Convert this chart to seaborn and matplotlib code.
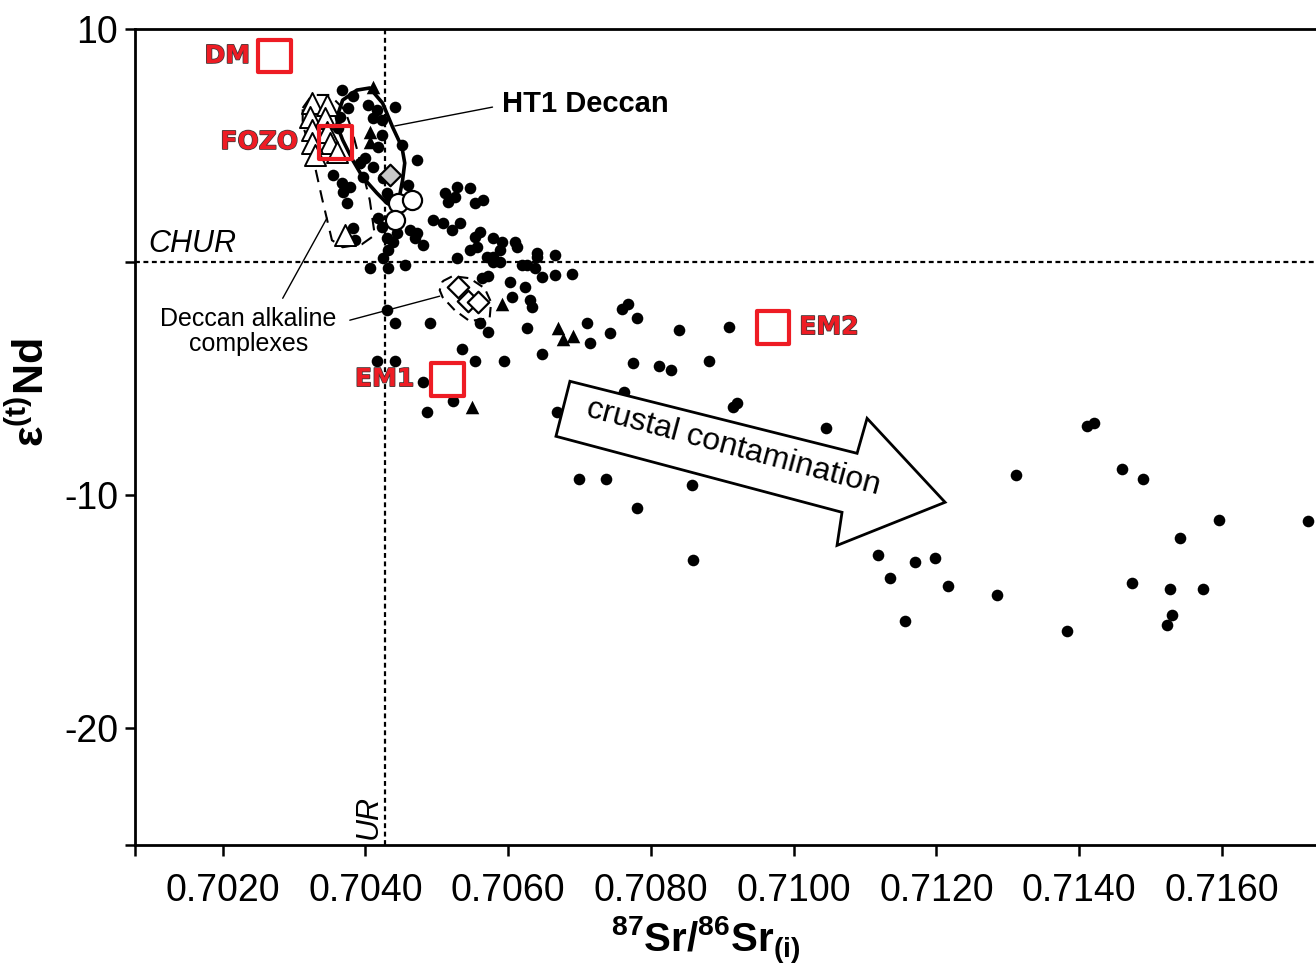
import matplotlib
matplotlib.use("Agg")
import matplotlib.pyplot as plt
import matplotlib.patheffects as pe
from matplotlib.patches import Polygon
import seaborn as sns
import pandas as pd

# ---------------- data ----------------
# Deccan basalts (filled circles)
dots_sr = [0.70367, 0.70382, 0.70375, 0.70364, 0.70361, 0.70403, 0.70416, 0.70410, 0.70423, 0.70441,
           0.70423, 0.70417, 0.70451, 0.70472, 0.70399, 0.70392, 0.70410, 0.70354, 0.70367, 0.70378,
           0.70368, 0.70374, 0.70424, 0.70396, 0.70459, 0.70430, 0.70434, 0.70511, 0.70515, 0.70525,
           0.70528, 0.70546, 0.70553, 0.70564, 0.70494, 0.70508, 0.70521, 0.70532, 0.70417, 0.70423,
           0.70462, 0.70469, 0.70480, 0.70472, 0.70430, 0.70438, 0.70431, 0.70406, 0.70431, 0.70455,
           0.70382, 0.70385, 0.70553, 0.70560, 0.70556, 0.70546, 0.70578, 0.70591, 0.70570, 0.70578,
           0.70588, 0.70609, 0.70613, 0.70619, 0.70626, 0.70637, 0.70640, 0.70640, 0.70665, 0.70648,
           0.70665, 0.70689, 0.70563, 0.70571, 0.70602, 0.70606, 0.70623, 0.70630, 0.70528, 0.70430,
           0.70441, 0.70490, 0.70560, 0.70571, 0.70627, 0.70710, 0.70714, 0.70742, 0.70648, 0.70535,
           0.70553, 0.70594, 0.70416, 0.70441, 0.70480, 0.70522, 0.70486, 0.70668, 0.70759, 0.70768,
           0.70780, 0.70839, 0.70909, 0.70775, 0.70812, 0.70828, 0.70881, 0.70762, 0.70915, 0.70920,
           0.71045, 0.70699, 0.70737, 0.70857, 0.70780, 0.70859, 0.71170, 0.71411, 0.71421, 0.71311,
           0.71460, 0.71489, 0.71596, 0.71721, 0.71541, 0.71118, 0.71170, 0.71198, 0.71135, 0.71216,
           0.71285, 0.71156, 0.71383, 0.71474, 0.71527, 0.71574, 0.71530, 0.71523, 0.70578, 0.70588,
           0.70633, 0.70424, 0.70444]
dots_nd = [7.38, 7.12, 6.61, 6.22, 5.75, 6.74, 6.52, 6.18, 6.09, 6.65,
           5.45, 4.94, 5.02, 4.38, 4.46, 4.25, 4.08, 3.73, 3.39, 3.22,
           3.00, 2.53, 3.61, 3.65, 3.30, 2.96, 2.66, 2.96, 2.58, 2.79,
           3.22, 3.18, 2.53, 2.66, 1.80, 1.67, 1.37, 1.67, 1.89, 1.50,
           1.37, 1.03, 0.73, 1.24, 1.03, 0.86, 0.52, -0.26, -0.26, -0.13,
           1.46, 0.94, 1.07, 1.29, 0.64, 0.52, 1.03, 0.86, 0.21, 0.21,
           0.52, 0.86, 0.64, -0.13, -0.13, -0.26, 0.39, 0.21, 0.30, -0.64,
           -0.56, -0.52, -0.69, -0.60, -0.86, -1.50, -1.07, -1.63, 0.17, -2.06,
           -2.62, -2.62, -2.62, -3.00, -2.83, -2.62, -3.48, -3.05, -3.95, -3.73,
           -4.25, -4.25, -4.25, -4.25, -5.15, -5.97, -6.44, -6.44, -2.02, -1.80,
           -2.40, -2.92, -2.79, -4.33, -4.46, -4.64, -4.25, -5.58, -6.22, -6.05,
           -7.12, -9.31, -9.31, -9.57, -10.56, -12.79, -9.31, -7.04, -6.91, -9.14,
           -8.88, -9.31, -11.07, -11.12, -11.85, -12.58, -12.88, -12.70, -13.56, -13.91,
           -14.29, -15.41, -15.84, -13.78, -14.03, -14.03, -15.15, -15.58, 0.00, 0.00,
           -1.93, 0.17, 1.24]

# filled triangles
tri_sr = [0.70410, 0.70407, 0.70407, 0.70591, 0.70670, 0.70677, 0.70691, 0.70549]
tri_nd = [7.51, 5.58, 5.15, -1.80, -2.83, -3.30, -3.18, -6.22]

# open triangles
otri_sr = [0.70325, 0.70346, 0.70322, 0.70343, 0.70325, 0.70346, 0.70350, 0.70325, 0.70360, 0.70329, 0.70371]
otri_nd = [6.82, 6.74, 6.22, 6.18, 5.67, 5.58, 5.11, 5.11, 4.72, 4.59, 1.16]

# open circles
ocirc_sr = [0.70445, 0.70465, 0.70442]
ocirc_nd = [2.53, 2.66, 1.80]

# grey diamond
gdia_sr = [0.70434]
gdia_nd = [3.73]

# Deccan alkaline complexes (open diamonds)
odia_sr = [0.70529, 0.70543, 0.70557]
odia_nd = [-1.07, -1.67, -1.72]

# mantle end-members
em_names = ["DM", "FOZO", "EM1", "EM2"]
em_sr = [0.70273, 0.70358, 0.70515, 0.70971]
em_nd = [8.84, 5.15, -5.02, -2.79]

# reference values
chur_nd = 0.0
ur_sr = 0.70428

# tick labels
xticks = [0.7020, 0.7040, 0.7060, 0.7080, 0.7100, 0.7120, 0.7140, 0.7160]
xticklabels = ["0.7020", "0.7040", "0.7060", "0.7080", "0.7100", "0.7120", "0.7140", "0.7160"]
yticks = [10, 0, -10, -20, -25]
yticklabels = ["10", "", "-10", "-20", ""]

# outlines (field boundaries)
ht1_sr = [0.70360, 0.70368, 0.70388, 0.70406, 0.70424, 0.70438, 0.70451, 0.70455, 0.70452, 0.70448,
          0.70441, 0.70430, 0.70416, 0.70396, 0.70382, 0.70368, 0.70361]
ht1_nd = [6.22, 6.95, 7.38, 7.47, 6.82, 5.79, 4.94, 4.25, 3.52, 2.88,
          2.45, 2.53, 2.96, 3.65, 4.38, 5.24, 5.79]
alk_sr = [0.70312, 0.70325, 0.70350, 0.70371, 0.70381, 0.70392, 0.70406, 0.70413, 0.70395, 0.70368,
          0.70353, 0.70339, 0.70325, 0.70312]
alk_nd = [6.61, 7.17, 7.17, 6.52, 5.67, 4.38, 2.66, 1.16, 0.77, 0.64,
          0.94, 2.75, 4.68, 5.88]
dia_sr = [0.70508, 0.70522, 0.70546, 0.70567, 0.70576, 0.70574, 0.70546, 0.70525, 0.70508, 0.70504]
dia_nd = [-0.82, -0.60, -0.69, -1.12, -1.72, -2.40, -2.53, -2.06, -1.50, -1.20]
arrow_sr = [0.706865, 0.710889, 0.711029, 0.712122, 0.710608, 0.710678, 0.706669]
arrow_nd = [-5.11, -8.20, -6.70, -10.30, -12.15, -10.73, -7.47]

# ---------------- style ----------------
sns.set_theme(style="white")
plt.rcParams["font.family"] = ["Liberation Sans", "DejaVu Sans"]
plt.rcParams["mathtext.fontset"] = "custom"
plt.rcParams["mathtext.rm"] = "Liberation Sans"
plt.rcParams["mathtext.bf"] = "Liberation Sans:bold"
plt.rcParams["mathtext.it"] = "Liberation Sans:italic"
for key in ["text.color", "axes.labelcolor", "xtick.color", "ytick.color", "axes.edgecolor"]:
    plt.rcParams[key] = "black"

fig = plt.figure(figsize=(13.16, 9.68), dpi=100)
ax = fig.add_axes([135 / 1316, 1 - 845 / 968, 1 - 135 / 1316, (845 - 29) / 968])

XMIN, XMAX = 0.70077, 0.71732
ax.set_xlim(XMIN, XMAX)
ax.set_ylim(-25.0, 10.0)

# reference lines
ax.axhline(chur_nd, color="black", lw=1.6, ls=(0, (2.2, 1.6)), zorder=1)
ax.axvline(ur_sr, color="black", lw=1.6, ls=(0, (2.2, 1.6)), zorder=1)

RED = "#ee1c24"

df_dots = pd.DataFrame({"sr": dots_sr, "nd": dots_nd})
df_tri = pd.DataFrame({"sr": tri_sr, "nd": tri_nd})
df_otri = pd.DataFrame({"sr": otri_sr, "nd": otri_nd})
df_ocirc = pd.DataFrame({"sr": ocirc_sr, "nd": ocirc_nd})
df_gdia = pd.DataFrame({"sr": gdia_sr, "nd": gdia_nd})
df_odia = pd.DataFrame({"sr": odia_sr, "nd": odia_nd})

sns.scatterplot(data=df_dots, x="sr", y="nd", marker="o", s=70, color="black",
                edgecolor="black", linewidth=0, ax=ax, zorder=3)
sns.scatterplot(data=df_tri, x="sr", y="nd", marker="^", s=95, color="black",
                edgecolor="black", linewidth=0, ax=ax, zorder=3)

# field outlines
ax.add_patch(Polygon(list(zip(ht1_sr, ht1_nd)), closed=True, fill=False, ec="black",
                     lw=2.6, joinstyle="round", zorder=4))
ax.add_patch(Polygon(list(zip(alk_sr, alk_nd)), closed=True, fill=False, ec="black",
                     lw=1.5, ls=(0, (6, 4)), zorder=4))
ax.add_patch(Polygon(list(zip(dia_sr, dia_nd)), closed=True, fill=False, ec="black",
                     lw=1.5, ls=(0, (5, 3)), zorder=4))

sns.scatterplot(data=df_otri, x="sr", y="nd", marker="^", s=230, color="white",
                edgecolor="black", linewidth=1.4, ax=ax, zorder=5)
sns.scatterplot(data=df_ocirc, x="sr", y="nd", marker="o", s=190, color="white",
                edgecolor="black", linewidth=1.6, ax=ax, zorder=5)
sns.scatterplot(data=df_gdia, x="sr", y="nd", marker="D", s=120, color="#c8c8c8",
                edgecolor="black", linewidth=1.6, ax=ax, zorder=5)
sns.scatterplot(data=df_odia, x="sr", y="nd", marker="D", s=120, color="white",
                edgecolor="black", linewidth=1.6, ax=ax, zorder=5)

# end-member boxes
ax.scatter(em_sr, em_nd, marker="s", s=560, facecolors="none", edgecolors=RED,
           linewidths=3.0, zorder=7)
lab_eff = [pe.Stroke(linewidth=1.1, foreground="#3a3a3a"), pe.Normal()]
em_offsets = {"DM": (-18, "right"), "FOZO": (-27, "right"), "EM1": (-24, "right"), "EM2": (19, "left")}
for name, sx, sy in zip(em_names, em_sr, em_nd):
    dx, ha = em_offsets[name]
    ax.annotate(name, (sx, sy), xytext=(dx, 0),
                textcoords="offset points", ha=ha, va="center", fontsize=18,
                fontweight="bold", color=RED, family=["DejaVu Sans"],
                path_effects=lab_eff, zorder=8)

# crustal contamination arrow
ax.add_patch(Polygon(list(zip(arrow_sr, arrow_nd)), closed=True, fc="white", ec="black",
                     lw=2.0, zorder=6, joinstyle="miter"))
ax.text(0.70915, -7.94, "crustal contamination", rotation=-15, rotation_mode="anchor",
        ha="center", va="center", fontsize=23, zorder=7)

# annotations
ax.plot([0.70441, 0.70578], [5.84, 6.65], color="black", lw=1.0, zorder=6)
ax.text(0.70591, 6.78, "HT1 Deccan", fontsize=21, fontweight="bold", ha="left", va="center", zorder=7)
ax.plot([0.70284, 0.70346], [-1.55, 1.89], color="black", lw=1.0, zorder=6)
ax.plot([0.70378, 0.70504], [-2.49, -1.46], color="black", lw=1.0, zorder=6)
ax.text(0.70236, -2.96, "Deccan alkaline\ncomplexes", fontsize=18, ha="center", va="center",
        linespacing=1.05, zorder=7)
ax.text(0.70095, 0.15, "CHUR", fontsize=22, style="italic", ha="left", va="bottom", zorder=7)
ax.text(ur_sr - 0.00003, -24.75, "UR", fontsize=22, style="italic", rotation=90,
        ha="right", va="bottom", zorder=7)

# axes styling
for side in ["left", "top", "bottom"]:
    ax.spines[side].set_linewidth(2.0)
    ax.spines[side].set_color("black")
ax.spines["right"].set_visible(False)

ax.set_xticks([XMIN] + xticks)
ax.set_xticklabels([""] + xticklabels)
ax.set_yticks(yticks)
ax.set_yticklabels(yticklabels)
ax.tick_params(axis="x", direction="out", length=8, width=1.8, labelsize=27, pad=12,
               bottom=True, colors="black")
ax.tick_params(axis="y", direction="out", length=7, width=1.8, labelsize=27, pad=5,
               left=True, colors="black")
ax.grid(False)

ax.set_xlabel(r"$\mathbf{^{87}Sr/^{86}Sr_{(i)}}$", fontsize=29)
ax.xaxis.set_label_coords(0.4835, -0.0855)
ax.xaxis.label.set_va("top")
ax.set_ylabel(r"$\mathbf{ε^{(t)}Nd}$", fontsize=31)
ax.yaxis.set_label_coords(-0.070, 0.554)

fig.savefig("out.png", dpi=100)
